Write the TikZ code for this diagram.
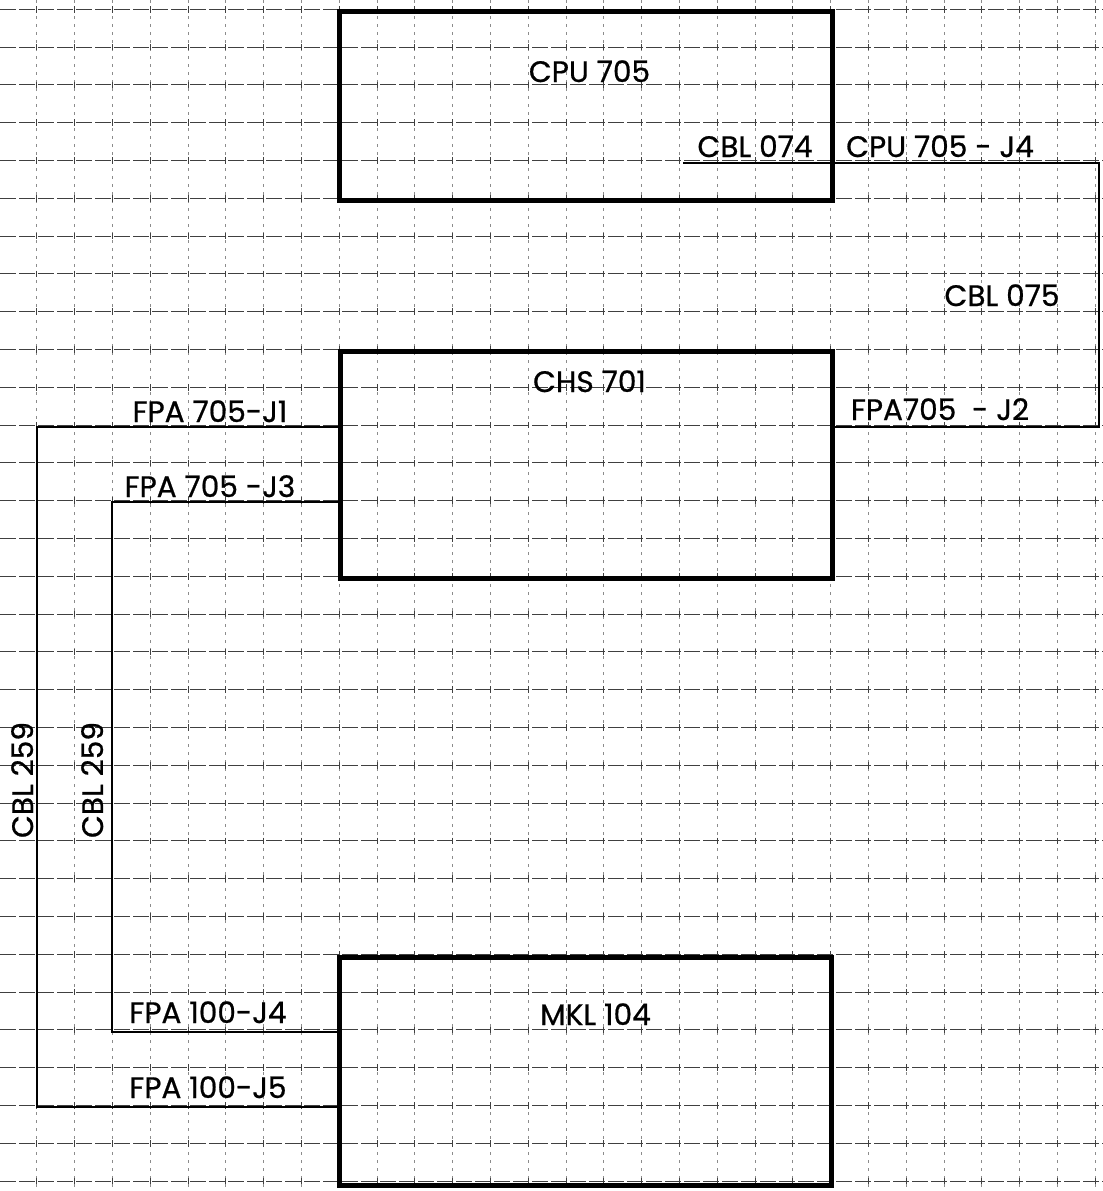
\documentclass[tikz,border=0pt]{standalone}
\usepackage{fontspec}
\setmainfont{Poppins}
\newfontfamily\lblfont{Poppins}[FakeBold=0.7]

\begin{document}
\begin{tikzpicture}[x=0.5pt,y=-0.5pt,
  box/.style={draw, line width=2.5pt, inner sep=0pt},
  wire/.style={line width=1.3pt},
  lbl/.style={inner sep=0pt, anchor=base, font=\lblfont\fontsize{14.8}{17}\selectfont},
  hgrid/.style={black!75, line width=0.45pt, dash pattern=on 8pt off 1.5pt},
  vgrid/.style={black!45, line width=0.35pt, dash pattern=on 1.5pt off 2.5pt}]
\useasboundingbox (0,0) rectangle (1103,1191);
% grid paper
\foreach \k in {0,...,31} \draw[hgrid] (0,9.3+37.8*\k) -- (1103,9.3+37.8*\k);
\foreach \j in {0,...,29} \draw[vgrid] (-1+37.8*\j,0) -- (-1+37.8*\j,1191);
\foreach \k in {0,...,31} \foreach \j in {0,...,29}
  \draw[black!75, line width=0.5pt] (-1+37.8*\j,6+37.8*\k) -- (-1+37.8*\j,12.6+37.8*\k);
% units
\node[box, minimum width=246.5pt, minimum height=94.5pt] (cpu) at (585.5,105.5) {};
\node[box, minimum width=246pt, minimum height=113.5pt] (chs) at (586,464.5) {};
\node[box, minimum width=246pt, minimum height=114pt] (mkl) at (585,1071) {};
\node[lbl] (cpuname) at (589.5,82) {CPU 705};
\node[lbl] (chsname) at (589.5,392) {CHS 701};
\node[lbl] (mklname) at (595.5,1025) {MKL 104};
% ports and bends
\coordinate (cpuJ4) at (683,163);
\coordinate (chsJ2) at (832,427);
\coordinate (chsJ1) at (340,427);
\coordinate (chsJ3) at (340,502);
\coordinate (mklJ4) at (339,1032);
\coordinate (mklJ5) at (339,1107);
\coordinate (bendR) at (1099,427);
\coordinate (bendA) at (37,1107);
\coordinate (bendB) at (112,1032);
% cables
\draw[wire] (cpuJ4) -| (bendR) -- (chsJ2);
\draw[wire] (chsJ1) -| (bendA) -- (mklJ5);
\draw[wire] (chsJ3) -| (bendB) -- (mklJ4);
% cable labels
\node[lbl] (l074) at (755,157) {CBL 074};
\node[lbl] (lj4) at (940,157) {CPU 705 - J4};
\node[lbl] (l075) at (1002,306) {CBL 075};
\node[lbl] (lj2) at (940,420) {FPA705\ \ - J2};
\node[lbl] (lj1) at (210,422) {FPA 705-J1};
\node[lbl] (lj3) at (210,497) {FPA 705 -J3};
\node[lbl] (lp4) at (208,1023) {FPA 100-J4};
\node[lbl] (lp5) at (208,1098) {FPA 100-J5};
\node[lbl, rotate=90] (l259a) at (33,780) {CBL 259};
\node[lbl, rotate=90] (l259b) at (103,780) {CBL 259};
\end{tikzpicture}
\end{document}
